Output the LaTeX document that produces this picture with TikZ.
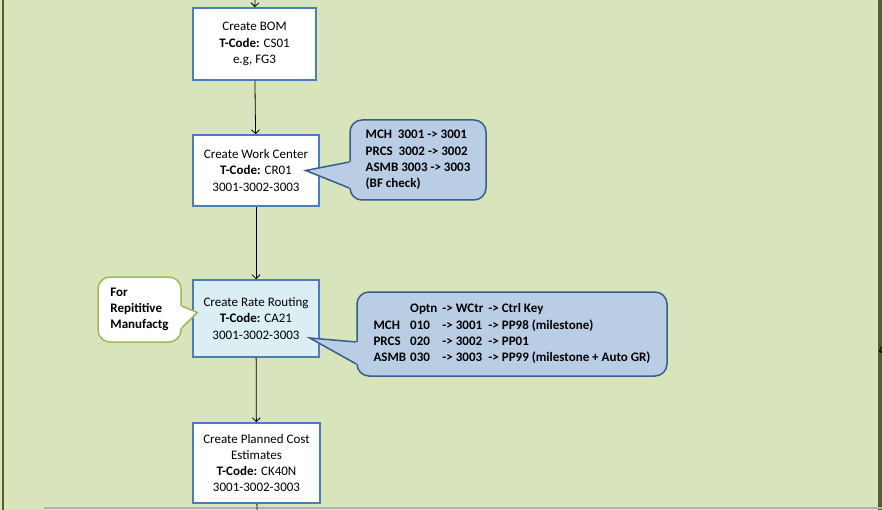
\documentclass[tikz,border=0pt]{standalone}
\usepackage{fontspec}
\setmainfont{Carlito}
\usetikzlibrary{arrows.meta}

\definecolor{sheet}{HTML}{D8E4BC}
\definecolor{edge}{HTML}{4F6228}
\definecolor{boxline}{HTML}{4A7EBB}
\definecolor{routefill}{HTML}{DBEEF4}
\definecolor{notefill}{HTML}{B9CDE5}
\definecolor{noteline}{HTML}{385D8A}
\definecolor{tipline}{HTML}{9BBB59}

\begin{document}
\begin{tikzpicture}[
    x=1pt, y=-1pt,
    >={Straight Barb[length=4pt,width=8pt]},
    every node/.style = {font=\fontsize{13}{16.3}\selectfont},
    line/.style    = {line width=0.8pt},
    box/.style     = {draw=boxline, line width=1.5pt, fill=white, inner sep=0pt,
                      minimum width=126pt, align=center},
    note/.style    = {draw=noteline, line width=1.5pt, fill=notefill, inner sep=0pt,
                      rounded corners=12pt, align=left,
                      font=\fontsize{13}{16.3}\selectfont\bfseries},
    tipnote/.style = {note, draw=tipline, fill=white},
    tail/.style    = {line width=1.5pt, line join=miter}
]

% Sheet
\useasboundingbox (0,0) rectangle (882,510);
\clip (0,0) rectangle (882,510);
\fill[sheet] (0,0) rectangle (882,510);
\fill[edge] (1.5,0) rectangle (4,510);
\fill[edge] (878,0) rectangle (882,510);
\draw[gray!60, line width=2pt] (44,508) -- (882,508);

% Steps
\node[box, minimum width=123pt, minimum height=72pt] (bom) at (254.5,44)
    {Create BOM\\\textbf{T-Code:} CS01\\e.g, FG3};
\node[box, minimum height=71pt] (wc) at (256,170.5)
    {Create Work Center\\\textbf{T-Code:} CR01\\3001-3002-3003};
\node[box, fill=routefill, minimum height=77pt] (rr) at (256,318.5)
    {Create Rate Routing\\\textbf{T-Code:} CA21\\3001-3002-3003};
\node[box, minimum width=127pt, minimum height=80pt] (pc) at (256.5,463)
    {Create Planned Cost\\Estimates\\\textbf{T-Code:} CK40N\\3001-3002-3003};

% Flow
\coordinate (in)  at (255,-6);
\coordinate (out) at (257,516);
\draw[->, line] (in) -- (bom);
\draw[->, line] (bom) -- (wc);
\draw[->, line] (wc) -- (rr);
\draw[->, line] (rr) -- (pc);
\draw[line] (pc) -- (out);

% Stub coming in at the right edge
\coordinate (far)  at (894,344);
\coordinate (stub) at (879,352);
\draw[->, line] (far) -- (stub);

% Callouts
\node[note, minimum width=136pt, minimum height=80pt] (bf) at (418,160)
    {MCH\ \ 3001 -> 3001\\PRCS\ \ 3002 -> 3002\\ASMB 3003 -> 3003\\(BF check)};
\coordinate (bftip) at ([xshift=-14pt]wc.east);
\fill[notefill] ([yshift=-2pt]bf.west) -- (bftip) -- ([yshift=-28pt]bf.west)
    -- ([xshift=3pt,yshift=-28pt]bf.west) -- ([xshift=3pt,yshift=-2pt]bf.west) -- cycle;
\draw[tail, noteline] ([yshift=-2pt]bf.west) -- (bftip) -- ([yshift=-28pt]bf.west);

\node[note, minimum width=310pt, minimum height=84pt] (ctl) at (512,334)
    {\begin{tabular}{@{}l@{\hspace{4pt}}l@{\hspace{5pt}}l@{\hspace{5pt}}l@{}}
         & Optn & -> WCtr & -> Ctrl Key\\
     MCH  & 010 & -> 3001 & -> PP98 (milestone)\\
     PRCS & 020 & -> 3002 & -> PP01\\
     ASMB & 030 & -> 3003 & -> PP99 (milestone + Auto GR)
     \end{tabular}};
\coordinate (ctltip) at ([xshift=-10pt,yshift=-19.5pt]rr.east);
\fill[notefill] ([yshift=-8pt]ctl.west) -- (ctltip) -- ([yshift=-30pt]ctl.west)
    -- ([xshift=3pt,yshift=-30pt]ctl.west) -- ([xshift=3pt,yshift=-8pt]ctl.west) -- cycle;
\draw[tail, noteline] ([yshift=-8pt]ctl.west) -- (ctltip) -- ([yshift=-30pt]ctl.west);

\node[tipnote, minimum width=83pt, minimum height=65pt] (rep) at (139.5,309.5)
    {For\\Repititive\\Manufactg};
\coordinate (reptip) at ([xshift=5pt,yshift=6pt]rr.west);
\fill[white] ([yshift=3.5pt]rep.east) -- (reptip) -- ([yshift=-18.5pt]rep.east)
    -- ([xshift=-3pt,yshift=-18.5pt]rep.east) -- ([xshift=-3pt,yshift=3.5pt]rep.east) -- cycle;
\draw[tail, tipline] ([yshift=3.5pt]rep.east) -- (reptip) -- ([yshift=-18.5pt]rep.east);

\end{tikzpicture}
\end{document}
